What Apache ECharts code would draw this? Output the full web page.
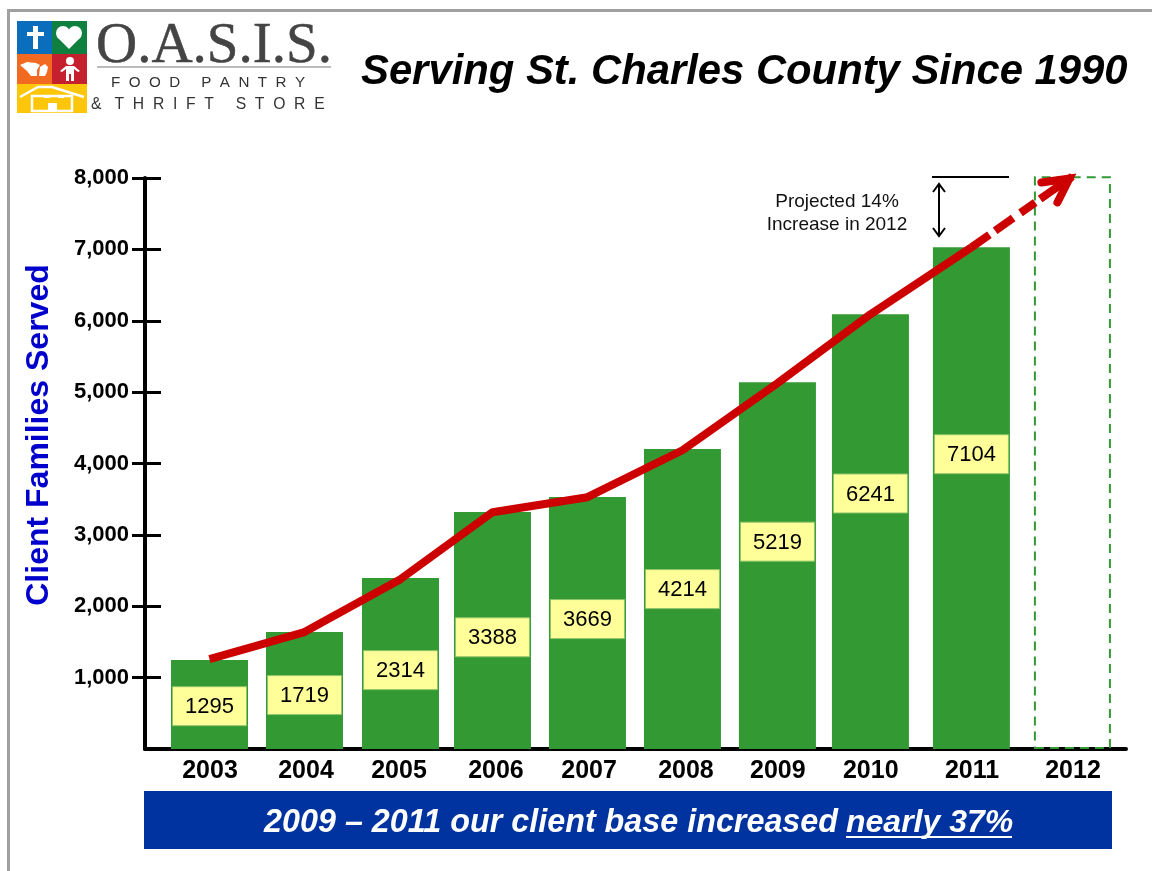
<!DOCTYPE html>
<html>
<head>
<meta charset="utf-8">
<title>OASIS client families served</title>
<style>
    html, body { margin: 0; padding: 0; background: #fff; }
    #chart { width: 1152px; height: 871px; }
</style>
<script src="https://cdn.jsdelivr.net/npm/echarts@6/dist/echarts.min.js"></script>
</head>
<body>
<div id="chart"></div>
<script>
// values
var years = [2003, 2004, 2005, 2006, 2007, 2008, 2009, 2010, 2011, 2012];
var barValues = [1246, 1640, 2395, 3319, 3529, 4202, 5140, 6092, 7031, 8025];
var lineValues = [1260, 1638, 2380, 3318, 3528, 4186, 5124, 6090, 7028];
var projectedValues = [7028, 8022];
var boxLabels = [1295, 1719, 2314, 3388, 3669, 4214, 5219, 6241, 7104];
var yTicks = [1000, 2000, 3000, 4000, 5000, 6000, 7000, 8000];

// layout: where the label boxes sit (axis units) and the hand placed bar shifts (px)
var boxLevels = [600, 755, 1105, 1565, 1820, 2240, 2905, 3580, 4130];
var barShiftPx = [0, -0.9, -0.8, -4.7, -5.6, -6.5, -7.4, -10.3, -5.2, -0.1];
var labelShiftPx = [0.5, 0.6, -2.3, -1.2, -4, -3, -7, -10, -4.6, 0.5];

var pxPerYear = 95.9;
var green = '#339933';
var red = '#cc0000';
var sans = '"Liberation Sans", Arial, sans-serif';
var serif = '"Liberation Serif", serif';

var barX = years.map(function (y, i) { return y + barShiftPx[i] / pxPerYear; });
var labelX = years.map(function (y, i) { return y + labelShiftPx[i] / pxPerYear; });

var myChart = echarts.init(document.getElementById('chart'), null, {renderer: 'canvas'});

function logo() {
    var white = {fill: '#fff'};
    return [
        // coloured squares
        {type: 'rect', shape: {x: 17, y: 21, width: 35, height: 33}, style: {fill: '#0a6ebd'}},
        {type: 'rect', shape: {x: 52, y: 21, width: 35, height: 33}, style: {fill: '#0f8040'}},
        {type: 'rect', shape: {x: 17, y: 54, width: 35, height: 30}, style: {fill: '#f26a21'}},
        {type: 'rect', shape: {x: 52, y: 54, width: 35, height: 30}, style: {fill: '#c4202e'}},
        {type: 'rect', shape: {x: 17, y: 84, width: 70, height: 29}, style: {fill: '#fdc60a'}},
        // cross
        {type: 'rect', shape: {x: 33, y: 26, width: 5, height: 23}, style: white},
        {type: 'rect', shape: {x: 27, y: 32, width: 17, height: 4}, style: white},
        // heart
        {type: 'circle', shape: {cx: 63, cy: 33, r: 7}, style: white},
        {type: 'circle', shape: {cx: 75, cy: 33, r: 7}, style: white},
        {type: 'polygon', shape: {points: [[57, 37], [69, 49], [81, 37], [69, 31]]}, style: white},
        // bread
        {type: 'polygon', shape: {points: [[20, 65], [27, 62], [36, 63], [40, 65], [37, 70], [37, 76], [31, 76], [27, 71]]}, style: white},
        {type: 'polygon', shape: {points: [[40, 67], [45, 64], [48, 67], [47, 72], [45, 76], [39, 76]]}, style: white},
        // person
        {type: 'circle', shape: {cx: 70, cy: 61, r: 4}, style: white},
        {type: 'polygon', shape: {points: [[60, 71], [66, 66], [74, 66], [80, 71], [78, 72], [74, 69], [74, 81], [71, 81], [71, 74], [69, 74], [69, 81], [66, 81], [66, 69], [62, 72]]}, style: white},
        // house
        {type: 'polyline', shape: {points: [[20, 97], [38, 87], [52, 87], [84, 97]]}, style: {stroke: '#fff', lineWidth: 2.5, fill: null}},
        {type: 'rect', shape: {x: 32, y: 96, width: 40, height: 15}, style: {stroke: '#fff', lineWidth: 2.5, fill: null}},
        {type: 'rect', shape: {x: 44, y: 95, width: 6, height: 3}, style: white},
        {type: 'rect', shape: {x: 58, y: 95, width: 6, height: 3}, style: white},
        {type: 'rect', shape: {x: 48, y: 103, width: 9, height: 8}, style: white},
        // wordmark
        {type: 'text', style: {x: 96, y: 47, text: 'O.A.S.I.S.', fill: '#444', stroke: '#444', lineWidth: 0.5, font: '57px ' + serif, textVerticalAlign: 'middle'}},
        {type: 'rect', shape: {x: 97, y: 66, width: 234, height: 2}, style: {fill: '#bbb'}},
        {type: 'text', style: {x: 111, y: 83, text: 'F  O  O  D     P  A  N  T  R  Y', fill: '#333', font: '15.2px ' + sans, textVerticalAlign: 'middle'}},
        {type: 'text', style: {x: 91, y: 105, text: '&   T  H  R  I  F  T     S  T  O  R  E', fill: '#333', font: '15.7px ' + sans, textVerticalAlign: 'middle'}}
    ];
}

function notes() {
    return [
        // page frame
        {type: 'rect', shape: {x: 7, y: 9, width: 1145, height: 3}, style: {fill: '#a0a0a0'}},
        {type: 'rect', shape: {x: 7, y: 9, width: 3, height: 862}, style: {fill: '#a0a0a0'}},
        // axis title
        {type: 'text', x: 39, y: 435, rotation: Math.PI / 2, style: {x: 0, y: 0, text: 'Client Families Served', fill: '#0000cc', font: 'bold 32px ' + sans, textAlign: 'center', textVerticalAlign: 'middle'}},
        // projected note
        {type: 'text', style: {x: 837, y: 202, text: 'Projected 14%', fill: '#111', font: '19px ' + sans, textAlign: 'center', textVerticalAlign: 'middle'}},
        {type: 'text', style: {x: 837, y: 225, text: 'Increase in 2012', fill: '#111', font: '19px ' + sans, textAlign: 'center', textVerticalAlign: 'middle'}},
        {type: 'line', shape: {x1: 932, y1: 177, x2: 1009, y2: 177}, style: {stroke: '#000', lineWidth: 2}},
        {type: 'line', shape: {x1: 939, y1: 184, x2: 939, y2: 236}, style: {stroke: '#000', lineWidth: 2}},
        {type: 'polyline', shape: {points: [[933, 192], [939, 184], [945, 192]]}, style: {stroke: '#000', lineWidth: 2, fill: null}},
        {type: 'polyline', shape: {points: [[933, 228], [939, 236], [945, 228]]}, style: {stroke: '#000', lineWidth: 2, fill: null}},
        // banner
        {type: 'rect', shape: {x: 144, y: 791, width: 968, height: 58}, style: {fill: '#0033a0'}},
        {type: 'text', style: {x: 838, y: 823, text: '2009 – 2011 our client base increased', fill: '#fff', font: 'italic bold 32.3px ' + sans, textAlign: 'right', textVerticalAlign: 'middle'}},
        {type: 'text', style: {x: 846, y: 823, text: 'nearly 37%', fill: '#fff', font: 'italic bold 32px ' + sans, textAlign: 'left', textVerticalAlign: 'middle'}},
        {type: 'rect', shape: {x: 846, y: 836, width: 166, height: 2}, style: {fill: '#fff'}}
    ];
}

function yAxisBase() {
    return {
        type: 'value',
        position: 'left',
        min: 0,
        max: 8000,
        splitLine: {show: false}
    };
}

myChart.setOption({
    animation: false,
    backgroundColor: '#fff',
    title: {
        text: 'Serving St. Charles County Since 1990',
        left: 361,
        top: 51,
        padding: 0,
        textStyle: {color: '#000', fontFamily: sans, fontSize: 41.8, fontWeight: 'bold', fontStyle: 'italic'}
    },
    grid: {left: 145, top: 178, width: 981, height: 571},
    xAxis: {
        type: 'value',
        min: 2002.3274,
        max: 2012.5579,
        splitLine: {show: false},
        axisTick: {show: false},
        axisLine: {onZero: false, lineStyle: {color: '#000', width: 4}},
        axisLabel: {
            customValues: labelX,
            margin: 10,
            color: '#000',
            fontFamily: sans,
            fontSize: 25,
            fontWeight: 'bold',
            showMinLabel: true,
            showMaxLabel: true,
            formatter: function (value) {
                return String(Math.round(value));
            }
        }
    },
    yAxis: [
        Object.assign(yAxisBase(), {
            axisLine: {show: true, lineStyle: {color: '#000', width: 4}},
            axisTick: {show: true, customValues: yTicks, length: 13, lineStyle: {color: '#000', width: 3}},
            axisLabel: {
                customValues: yTicks,
                margin: 16,
                padding: [2, 0, 0, 0],
                color: '#000',
                fontFamily: sans,
                fontSize: 22,
                fontWeight: 'bold',
                formatter: function (value) {
                    return value.toLocaleString('en-US');
                }
            }
        }),
        Object.assign(yAxisBase(), {
            axisLine: {show: false},
            axisLabel: {show: false},
            axisTick: {show: true, inside: true, customValues: yTicks, length: 16, lineStyle: {color: '#000', width: 3}}
        })
    ],
    graphic: {elements: logo().concat(notes())},
    series: [
        {
            type: 'bar',
            barWidth: 77,
            clip: false,
            z: 2,
            itemStyle: {color: green},
            data: barValues.map(function (v, i) {
                var item = {value: [barX[i], v]};
                if (years[i] === 2012) {
                    item.itemStyle = {color: 'rgba(0,0,0,0)', borderColor: green, borderWidth: 2, borderType: [9, 6]};
                }
                return item;
            })
        },
        {
            // yellow value boxes
            type: 'custom',
            z: 3,
            clip: false,
            data: boxLabels.map(function (v, i) { return [barX[i], boxLevels[i], v]; }),
            renderItem: function (params, api) {
                var p = api.coord([api.value(0), api.value(1)]);
                return {
                    type: 'group',
                    children: [
                        {type: 'rect', shape: {x: p[0] - 37, y: p[1] - 19.5, width: 74, height: 39}, style: {fill: '#ffff99', stroke: '#8fc46a', lineWidth: 1}},
                        {type: 'text', style: {x: p[0], y: p[1] + 1, text: String(api.value(2)), fill: '#000', font: '22px ' + sans, textAlign: 'center', textVerticalAlign: 'middle'}}
                    ]
                };
            }
        },
        {
            type: 'line',
            z: 4,
            symbol: 'none',
            lineStyle: {color: red, width: 8, cap: 'butt'},
            data: lineValues.map(function (v, i) { return [barX[i], v]; })
        },
        {
            type: 'line',
            z: 4,
            symbol: 'none',
            clip: false,
            lineStyle: {color: red, width: 8, cap: 'butt', type: [22, 7, 22, 9, 18, 6, 40, 0]},
            data: [[barX[8], projectedValues[0]], [barX[9], projectedValues[1]]]
        },
        {
            // arrow head on the projection
            type: 'custom',
            z: 5,
            clip: false,
            data: [[barX[9], projectedValues[1]]],
            renderItem: function (params, api) {
                var p = api.coord([api.value(0), api.value(1)]);
                return {
                    type: 'polyline',
                    shape: {points: [[p[0] - 31, p[1] + 6], [p[0] - 3, p[1] + 2], [p[0] - 15, p[1] + 26]]},
                    style: {stroke: red, lineWidth: 8, fill: null, lineCap: 'round', lineJoin: 'miter'}
                };
            }
        }
    ]
});
</script>
</body>
</html>
